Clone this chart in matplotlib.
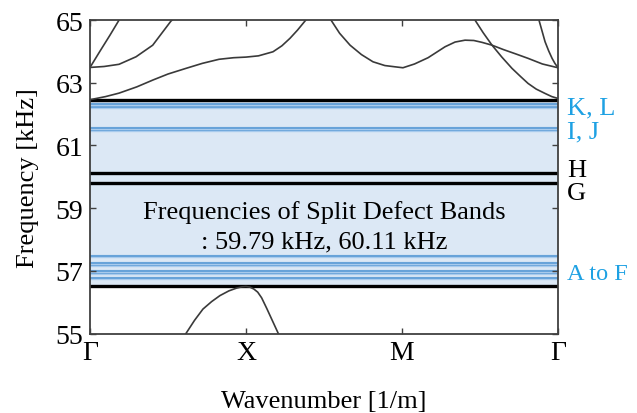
import matplotlib.pyplot as plt

plt.rcParams['font.family'] = ['Liberation Serif', 'DejaVu Serif']

# path positions along Γ-X-M-Γ
tick_pos = [0, 1, 2, 3]
tick_names = ['Γ', 'X', 'M', 'Γ']

# dispersion branches (k, frequency in kHz)
k1 = [0.0, 0.064, 0.128, 0.186, 0.22]
f1 = [63.49, 64.01, 64.52, 65.0, 65.2]

k2 = [0.0, 0.09, 0.186, 0.295, 0.402, 0.519, 0.55]
f2 = [63.49, 63.52, 63.59, 63.83, 64.2, 64.97, 65.1]

k3 = [0.0, 0.1, 0.186, 0.3, 0.404, 0.5, 0.615, 0.72, 0.827, 0.92, 1.0, 1.08, 1.173, 1.23, 1.282, 1.33, 1.378, 1.4]
f3 = [62.46, 62.56, 62.67, 62.87, 63.09, 63.28, 63.46, 63.62, 63.75, 63.8, 63.82, 63.86, 63.99, 64.18, 64.42, 64.68, 64.97, 65.1]

k4 = [1.52, 1.545, 1.6, 1.667, 1.74, 1.814, 1.89, 1.955, 2.006, 2.08, 2.167, 2.22, 2.276, 2.34, 2.404, 2.46, 2.513,
      2.577, 2.65, 2.73, 2.808, 2.9, 3.0]
f4 = [65.1, 65.0, 64.58, 64.2, 63.9, 63.67, 63.55, 63.51, 63.48, 63.6, 63.8, 63.97, 64.15, 64.3, 64.36, 64.35, 64.29,
      64.2, 64.06, 63.92, 63.78, 63.6, 63.48]

k5 = [2.45, 2.468, 2.52, 2.577, 2.64, 2.705, 2.76, 2.808, 2.86, 2.917, 2.96, 3.0]
f5 = [65.1, 65.0, 64.6, 64.2, 63.82, 63.46, 63.2, 62.98, 62.8, 62.66, 62.56, 62.5]

k6 = [2.87, 2.878, 2.917, 2.94, 2.962, 2.98, 3.0]
f6 = [65.1, 65.0, 64.31, 64.02, 63.78, 63.62, 63.48]

k_low = [0.6, 0.615, 0.67, 0.724, 0.78, 0.833, 0.89, 0.94, 0.975, 1.0, 1.025, 1.05, 1.075, 1.1, 1.133, 1.17, 1.207, 1.22]
f_low = [54.9, 55.0, 55.42, 55.78, 56.02, 56.21, 56.36, 56.45, 56.49, 56.5, 56.48, 56.42, 56.32, 56.14, 55.8, 55.4, 55.0, 54.9]

branches = [(k1, f1), (k2, f2), (k3, f3), (k4, f4), (k5, f5), (k6, f6), (k_low, f_low)]

# band gap edges and defect bands
gap_low, gap_high = 56.52, 62.46
split_bands = [59.79, 60.11]          # G, H
defect_bands = [56.77, 56.92, 56.98, 57.18, 57.24, 57.47,   # A to F
                61.49, 61.55,                                # I, J
                62.22, 62.31]                                # K, L

band_labels = ['K, L', 'I, J', 'H', 'G', 'A to F']
label_freqs = [62.2, 61.45, 60.21, 59.47, 56.93]
label_colors = ['#1ea1e3', '#1ea1e3', 'black', 'black', '#1ea1e3']
label_sizes = [19, 19, 19, 19, 17.5]

fs = 19

fig = plt.figure(figsize=(6.37, 4.14), dpi=100)
ax = fig.add_axes([0.1413, 0.192, 0.7347, 0.757])

ax.axhspan(gap_low, gap_high, color='#dce8f5', zorder=0)
for f in defect_bands:
    ax.axhline(f, color='#a9cbed', lw=2.4, zorder=1)
    ax.axhline(f, color='#5b9bd5', lw=1.2, zorder=1)
for f in split_bands + [gap_low, gap_high]:
    ax.axhline(f, color='black', lw=2.4, zorder=2)

for k, f in branches:
    ax.plot(k, f, color='#3a3a3a', lw=1.2, zorder=3)

for lab, f, c, s in zip(band_labels, label_freqs, label_colors, label_sizes):
    ax.text(3.06, f, lab, color=c, fontsize=s, va='center', ha='left', clip_on=False)

ax.text(1.5, 58.9, 'Frequencies of Split Defect Bands', fontsize=fs, ha='center', va='center')
ax.text(1.5, 57.95, ': %.2f kHz, %.2f kHz' % (split_bands[0], split_bands[1]), fontsize=fs, ha='center', va='center')

ax.set_xlim(0, 3)
ax.set_ylim(55, 65)
ax.set_xticks(tick_pos)
ax.set_xticklabels(tick_names)
ax.set_yticks([55, 57, 59, 61, 63, 65])
ax.tick_params(direction='in', top=True, right=True, labelsize=20, length=4, width=1, color='#404040', pad=5)
for s in ax.spines.values():
    s.set_color('#404040')
    s.set_linewidth(1.3)
    s.set_zorder(5)

ax.set_xlabel('Wavenumber [1/m]', fontsize=fs, labelpad=18)
ax.set_ylabel('Frequency [kHz]', fontsize=fs, labelpad=12)

fig.savefig('out.png', dpi=100)
